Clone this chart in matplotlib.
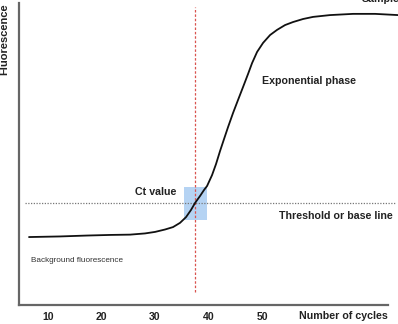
import matplotlib

matplotlib.use("Agg")
import matplotlib.pyplot as plt
from matplotlib.patches import Rectangle

plt.rcParams["font.family"] = ["Liberation Sans", "DejaVu Sans"]

# amplification curve (cycle, fluorescence 0-100)
cycles = [6.45, 12.24, 17.29, 21.59, 25.33, 28.13, 30.0, 31.87, 33.36, 34.67,
          35.79, 36.73, 37.48, 38.41, 39.16, 39.72, 40.65, 41.40, 42.15, 42.90,
          43.64, 44.58, 45.51, 46.45, 47.38, 48.13, 49.07, 50.19, 51.50, 52.80,
          54.30, 55.79, 57.66, 59.53, 62.71, 67.01, 71.12, 75.4]
fluor = [22.5, 22.7, 23.0, 23.2, 23.3, 23.7, 24.2, 25.0, 25.8, 27.2,
         29.1, 31.5, 33.8, 36.1, 38.1, 39.4, 43.0, 46.7, 51.0, 55.0,
         58.9, 63.6, 67.9, 72.2, 76.5, 80.1, 83.8, 86.8, 89.4, 91.1,
         92.7, 93.7, 94.7, 95.4, 96.0, 96.4, 96.4, 96.0]

tick_cycles = [10, 20, 30, 40, 50]
tick_labels = ["10", "20", "30", "40", "50"]

ct_value = 37.5
threshold = 33.8
ct_box = (35.4, 39.7, 28.1, 39.1)  # x0, x1, y0, y1

W, H = 398, 324
fig = plt.figure(figsize=(W / 100, H / 100), dpi=100)
ax = fig.add_axes([19 / W, (H - 305) / H, (W - 19) / W, (305 - 3) / H])
ax.set_xlim(4.58, 75.4)
ax.set_ylim(0, 100)

for side in ("top", "right"):
    ax.spines[side].set_visible(False)
for side in ("left", "bottom"):
    ax.spines[side].set_color("#666666")
    ax.spines[side].set_linewidth(1.6)
ax.spines["bottom"].set_bounds(4.58, 73.6)

ax.set_yticks([])
ax.set_xticks(tick_cycles)
ax.set_xticklabels(tick_labels, fontsize=7.6, fontweight="bold", color="#222222")
ax.tick_params(axis="x", length=0, pad=5)

x0, x1, y0, y1 = ct_box
ax.add_patch(Rectangle((x0, y0), x1 - x0, y1 - y0, facecolor="#b5d3f3",
                       edgecolor="none", zorder=1))
ax.hlines(threshold, 5.7, 74.9, colors="#777777", linestyles=(0, (1, 1.2)),
          linewidth=0.9, zorder=2)
ax.vlines(ct_value, 4.3, 98.7, colors="#d9534f", linestyles=(0, (2, 1.5)),
          linewidth=0.9, zorder=2)
ax.plot(cycles, fluor, color="#111111", linewidth=1.3, zorder=3, clip_on=False,
        solid_joinstyle="round", solid_capstyle="round")

bold = dict(fontweight="bold", color="#222222", fontsize=7.7)
ax.text(30.2, 37.4, "Ct value", ha="center", va="center", **bold)
ax.text(74.5, 29.5, "Threshold or base line", ha="right", va="center", **bold)
ax.text(50.0, 74.2, "Exponential phase", ha="left", va="center", **bold)
ax.text(68.7, 100.3, "Sample", ha="left", va="baseline", clip_on=False, **bold)
ax.text(6.8, 14.9, "Background fluorescence", ha="left", va="center",
        fontsize=5.9, color="#333333")

fig.text(343 / W, 1 - 316 / H, "Number of cycles", ha="center", va="center", **bold)
fig.text(4 / W, 1 - 39 / H, "Fluorescence", rotation=90, ha="center",
         va="center", fontweight="bold", color="#222222", fontsize=8)

fig.savefig("out.png", dpi=100)
